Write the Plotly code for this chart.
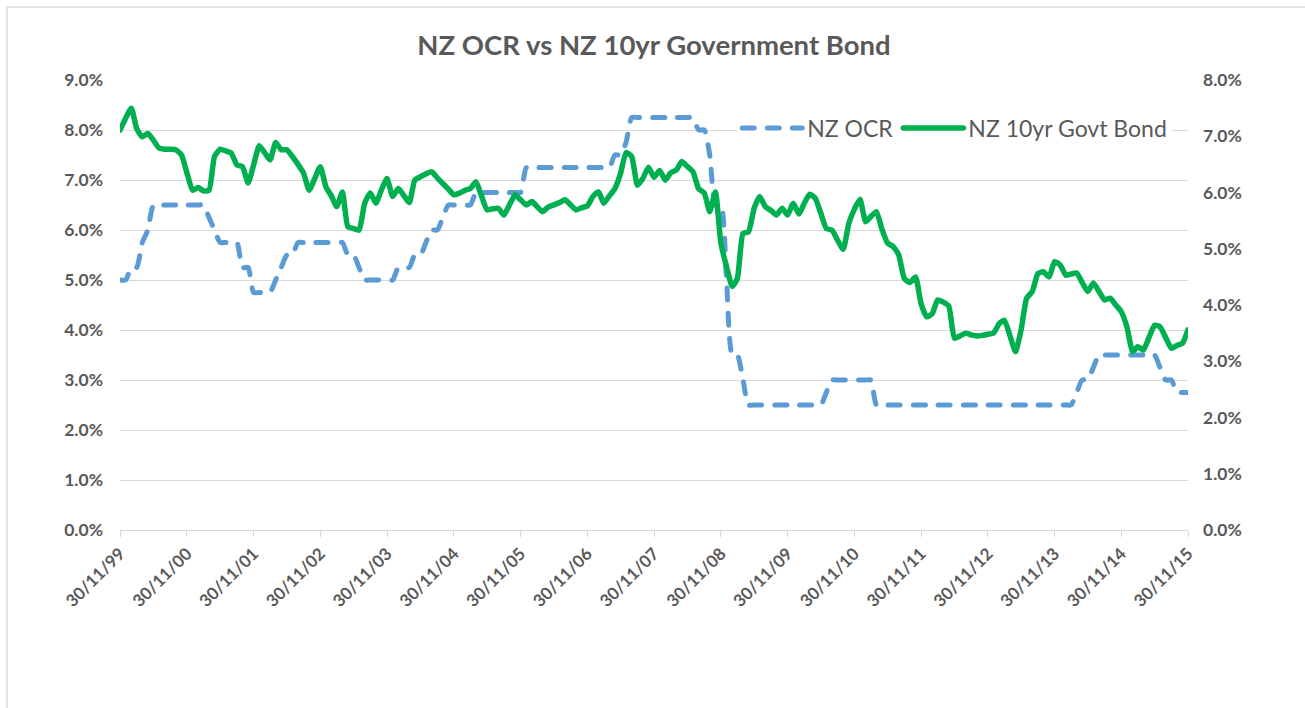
import pandas as pd
import plotly.graph_objects as go

# Monthly observations, end of month, 30/11/1999 .. 30/11/2015
start_month = "1999-11-01"
n_months = 193

ocr = [
    5.00, 5.00, 5.25, 5.25, 5.75, 6.00, 6.50, 6.50, 6.50, 6.50, 6.50, 6.50,
    6.50, 6.50, 6.50, 6.50, 6.25, 6.00, 5.75, 5.75, 5.75, 5.75, 5.25, 5.25,
    4.75, 4.75, 4.75, 4.75, 5.00, 5.25, 5.50, 5.50, 5.75, 5.75, 5.75, 5.75,
    5.75, 5.75, 5.75, 5.75, 5.75, 5.50, 5.50, 5.25, 5.00, 5.00, 5.00, 5.00,
    5.00, 5.00, 5.25, 5.25, 5.25, 5.50, 5.50, 5.75, 6.00, 6.00, 6.25, 6.50,
    6.50, 6.50, 6.50, 6.50, 6.75, 6.75, 6.75, 6.75, 6.75, 6.75, 6.75, 6.75,
    6.75, 7.25, 7.25, 7.25, 7.25, 7.25, 7.25, 7.25, 7.25, 7.25, 7.25, 7.25,
    7.25, 7.25, 7.25, 7.25, 7.25, 7.50, 7.50, 7.75, 8.25, 8.25, 8.25, 8.25,
    8.25, 8.25, 8.25, 8.25, 8.25, 8.25, 8.25, 8.25, 8.00, 8.00, 7.50, 6.50,
    6.50, 5.00, 3.50, 3.50, 3.00, 2.50, 2.50, 2.50, 2.50, 2.50, 2.50, 2.50,
    2.50, 2.50, 2.50, 2.50, 2.50, 2.50, 2.50, 2.75, 3.00, 3.00, 3.00, 3.00,
    3.00, 3.00, 3.00, 3.00, 2.50, 2.50, 2.50, 2.50, 2.50, 2.50, 2.50, 2.50,
    2.50, 2.50, 2.50, 2.50, 2.50, 2.50, 2.50, 2.50, 2.50, 2.50, 2.50, 2.50,
    2.50, 2.50, 2.50, 2.50, 2.50, 2.50, 2.50, 2.50, 2.50, 2.50, 2.50, 2.50,
    2.50, 2.50, 2.50, 2.50, 2.75, 3.00, 3.00, 3.25, 3.50, 3.50, 3.50, 3.50,
    3.50, 3.50, 3.50, 3.50, 3.50, 3.50, 3.50, 3.25, 3.00, 3.00, 2.75, 2.75,
    2.75,
]

bond10 = [
    7.11, 7.32, 7.50, 7.14, 6.99, 7.05, 6.93, 6.79, 6.77, 6.77, 6.76, 6.67,
    6.35, 6.04, 6.09, 6.03, 6.04, 6.64, 6.77, 6.74, 6.70, 6.49, 6.46, 6.17,
    6.49, 6.83, 6.70, 6.58, 6.89, 6.76, 6.76, 6.64, 6.50, 6.34, 6.04, 6.25,
    6.46, 6.10, 5.93, 5.75, 6.01, 5.39, 5.36, 5.33, 5.81, 5.99, 5.81, 6.05,
    6.25, 5.93, 6.07, 5.95, 5.82, 6.22, 6.28, 6.33, 6.37, 6.26, 6.16, 6.06,
    5.96, 5.99, 6.04, 6.07, 6.19, 5.94, 5.69, 5.71, 5.72, 5.60, 5.78, 5.96,
    5.87, 5.78, 5.84, 5.75, 5.66, 5.74, 5.78, 5.82, 5.87, 5.78, 5.69, 5.73,
    5.76, 5.93, 6.01, 5.81, 5.94, 6.07, 6.34, 6.71, 6.64, 6.13, 6.25, 6.45,
    6.27, 6.39, 6.22, 6.35, 6.40, 6.55, 6.46, 6.37, 6.07, 5.99, 5.66, 6.01,
    5.10, 4.68, 4.33, 4.47, 5.27, 5.30, 5.72, 5.93, 5.75, 5.68, 5.60, 5.72,
    5.60, 5.81, 5.62, 5.80, 5.97, 5.90, 5.63, 5.36, 5.33, 5.15, 4.99, 5.45,
    5.70, 5.88, 5.48, 5.57, 5.66, 5.35, 5.10, 5.04, 4.89, 4.47, 4.40, 4.50,
    4.03, 3.79, 3.85, 4.09, 4.05, 3.98, 3.41, 3.45, 3.50, 3.47, 3.45, 3.46,
    3.48, 3.50, 3.67, 3.73, 3.45, 3.17, 3.56, 4.12, 4.24, 4.56, 4.59, 4.50,
    4.77, 4.71, 4.53, 4.55, 4.57, 4.40, 4.24, 4.39, 4.24, 4.09, 4.12, 4.00,
    3.88, 3.61, 3.17, 3.26, 3.20, 3.42, 3.64, 3.61, 3.42, 3.23, 3.28, 3.32,
    3.56,
]

tick_dates = ["1999-11-30", "2000-11-30", "2001-11-30", "2002-11-30", "2003-11-30",
              "2004-11-30", "2005-11-30", "2006-11-30", "2007-11-30", "2008-11-30",
              "2009-11-30", "2010-11-30", "2011-11-30", "2012-11-30", "2013-11-30",
              "2014-11-30", "2015-11-30"]
tick_labels = ["30/11/99", "30/11/00", "30/11/01", "30/11/02", "30/11/03",
               "30/11/04", "30/11/05", "30/11/06", "30/11/07", "30/11/08",
               "30/11/09", "30/11/10", "30/11/11", "30/11/12", "30/11/13",
               "30/11/14", "30/11/15"]

title_text = "NZ OCR vs NZ 10yr Government Bond"
ocr_name = "NZ OCR"
bond_name = "NZ 10yr Govt Bond"

dates = pd.date_range(start=start_month, periods=n_months, freq="MS") + pd.offsets.MonthEnd(0)
print(len(dates), len(ocr), len(bond10))

FONT = "Lato, 'Open Sans', sans-serif"
GREY = "#595959"
GRID = "#D9D9D9"

fig = go.Figure()
fig.add_trace(go.Scatter(
    x=dates, y=ocr, name=ocr_name, mode="lines", yaxis="y",
    line=dict(color="#5B9BD5", width=5, dash="12px,13px", shape="spline", smoothing=0.6),
))
fig.add_trace(go.Scatter(
    x=dates, y=bond10, name=bond_name, mode="lines", yaxis="y2",
    line=dict(color="#00B050", width=5.5, shape="spline", smoothing=0.5),
))

tickfont = dict(family=FONT, size=17.5, color=GREY, weight="bold")
xtickfont = dict(family=FONT, size=17, color=GREY, weight="bold")

fig.update_layout(
    width=1305, height=708,
    margin=dict(l=120, r=117, t=80, b=178),
    paper_bgcolor="white", plot_bgcolor="white",
    title=dict(text=title_text, x=0.5, xref="paper", xanchor="center",
               y=1 - 45 / 708, yref="container", yanchor="middle",
               font=dict(family=FONT, size=27.5, color=GREY, weight="bold")),
    xaxis=dict(
        type="date", range=["1999-11-30", "2015-11-30"],
        tickvals=tick_dates, ticktext=tick_labels, tickangle=-45,
        tickfont=xtickfont, showgrid=False, showline=True, linecolor=GRID, linewidth=1.3,
        ticks="outside", ticklen=6, tickcolor=GRID, tickwidth=1.3, zeroline=False,
    ),
    yaxis=dict(
        range=[0, 9], dtick=1, tickformat=".1f", ticksuffix="%",
        tickfont=tickfont, showgrid=True, gridcolor=GRID, gridwidth=1.3,
        zeroline=False, showline=False, ticks="", ticklabelstandoff=16,
    ),
    yaxis2=dict(
        range=[0, 8], dtick=1, tickformat=".1f", ticksuffix="%",
        overlaying="y", side="right",
        tickfont=tickfont, showgrid=False, zeroline=False, showline=False,
        ticks="", ticklabelstandoff=14,
    ),
    legend=dict(
        orientation="h", x=0.578, xanchor="left", y=0.893, yanchor="middle",
        bgcolor="white", font=dict(family=FONT, size=23, color=GREY),
        itemwidth=60, tracegroupgap=0,
    ),
    showlegend=True,
)

fig.add_shape(type="rect", xref="paper", yref="paper",
              x0=-0.1058, x1=1.3, y0=-0.6, y1=1.1622,
              line=dict(color=GRID, width=1.5), fillcolor="rgba(0,0,0,0)", layer="below")

post = ("document.body.style.margin='0';"
        "document.querySelectorAll('.scatterlayer .js-line, .legend .js-line').forEach(function(p){"
        "p.style.strokeLinecap='round'; p.style.strokeLinejoin='round';});")
fig.write_html("out.html", post_script=post, config={"displayModeBar": False})
